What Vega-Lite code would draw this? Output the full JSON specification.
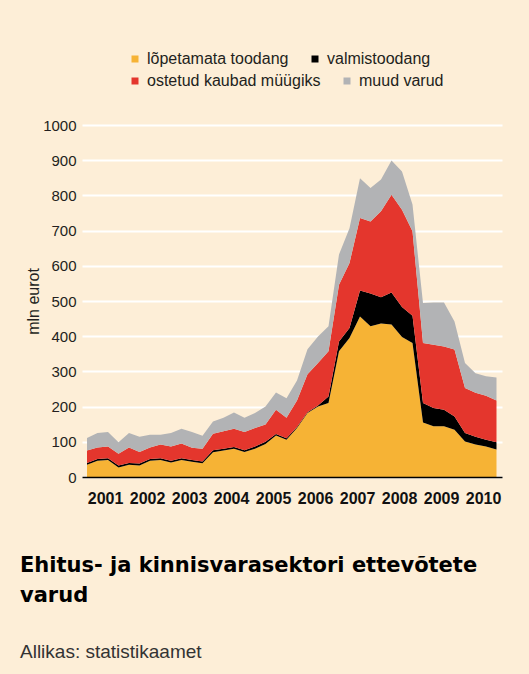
{
  "$schema": "https://vega.github.io/schema/vega-lite/v6.json",
  "width": 420,
  "height": 352,
  "autosize": {"type": "none"},
  "padding": {"left": 82, "top": 125, "right": 27, "bottom": 197},
  "background": "#FDEED7",
  "config": {
    "view": {"stroke": null},
    "font": "Liberation Sans",
    "legend": {
      "title": null,
      "orient": "none",
      "direction": "horizontal",
      "columnPadding": 18,
      "symbolType": "square",
      "symbolSize": 49,
      "symbolStrokeWidth": 0,
      "symbolOpacity": 1,
      "labelFont": "Liberation Sans",
      "labelFontSize": 16,
      "labelColor": "#231F20",
      "labelOffset": 4,
      "labelLimit": 300
    }
  },
  "title": {
    "text": ["Ehitus- ja kinnisvarasektori ettevõtete", "varud"],
    "subtitle": "Allikas: statistikaamet",
    "orient": "bottom",
    "anchor": "start",
    "frame": "group",
    "dx": -62,
    "offset": 49,
    "font": "DejaVu Sans",
    "fontWeight": "bold",
    "fontSize": 21,
    "lineHeight": 30,
    "color": "#000000",
    "subtitleFont": "Liberation Sans",
    "subtitleFontSize": 19,
    "subtitleColor": "#333333",
    "subtitlePadding": 37
  },
  "datasets": {
    "series": [
      {"k": "lõpetamata toodang", "s": 1},
      {"k": "valmistoodang", "s": 2},
      {"k": "ostetud kaubad müügiks", "s": 3},
      {"k": "muud varud", "s": 4}
    ]
  },
  "data": {
    "values": [
      {"t": 2001.00, "lõpetamata toodang": 35, "valmistoodang": 5, "ostetud kaubad müügiks": 35, "muud varud": 36},
      {"t": 2001.25, "lõpetamata toodang": 46, "valmistoodang": 5, "ostetud kaubad müügiks": 33, "muud varud": 41},
      {"t": 2001.50, "lõpetamata toodang": 48, "valmistoodang": 5, "ostetud kaubad müügiks": 34, "muud varud": 41},
      {"t": 2001.75, "lõpetamata toodang": 27, "valmistoodang": 6, "ostetud kaubad müügiks": 33, "muud varud": 33},
      {"t": 2002.00, "lõpetamata toodang": 35, "valmistoodang": 5, "ostetud kaubad müügiks": 44, "muud varud": 41},
      {"t": 2002.25, "lõpetamata toodang": 33, "valmistoodang": 5, "ostetud kaubad müügiks": 33, "muud varud": 43},
      {"t": 2002.50, "lõpetamata toodang": 46, "valmistoodang": 5, "ostetud kaubad müügiks": 33, "muud varud": 36},
      {"t": 2002.75, "lõpetamata toodang": 48, "valmistoodang": 5, "ostetud kaubad müügiks": 39, "muud varud": 28},
      {"t": 2003.00, "lõpetamata toodang": 41, "valmistoodang": 5, "ostetud kaubad müügiks": 41, "muud varud": 38},
      {"t": 2003.25, "lõpetamata toodang": 48, "valmistoodang": 5, "ostetud kaubad müügiks": 42, "muud varud": 42},
      {"t": 2003.50, "lõpetamata toodang": 43, "valmistoodang": 5, "ostetud kaubad müügiks": 35, "muud varud": 45},
      {"t": 2003.75, "lõpetamata toodang": 39, "valmistoodang": 5, "ostetud kaubad müügiks": 36, "muud varud": 37},
      {"t": 2004.00, "lõpetamata toodang": 70, "valmistoodang": 6, "ostetud kaubad müügiks": 47, "muud varud": 35},
      {"t": 2004.25, "lõpetamata toodang": 75, "valmistoodang": 5, "ostetud kaubad müügiks": 50, "muud varud": 38},
      {"t": 2004.50, "lõpetamata toodang": 80, "valmistoodang": 5, "ostetud kaubad müügiks": 52, "muud varud": 46},
      {"t": 2004.75, "lõpetamata toodang": 71, "valmistoodang": 5, "ostetud kaubad müügiks": 52, "muud varud": 40},
      {"t": 2005.00, "lõpetamata toodang": 80, "valmistoodang": 7, "ostetud kaubad müügiks": 52, "muud varud": 43},
      {"t": 2005.25, "lõpetamata toodang": 94, "valmistoodang": 6, "ostetud kaubad müügiks": 49, "muud varud": 51},
      {"t": 2005.50, "lõpetamata toodang": 118, "valmistoodang": 4, "ostetud kaubad müügiks": 69, "muud varud": 49},
      {"t": 2005.75, "lõpetamata toodang": 106, "valmistoodang": 4, "ostetud kaubad müügiks": 58, "muud varud": 56},
      {"t": 2006.00, "lõpetamata toodang": 139, "valmistoodang": 3, "ostetud kaubad müügiks": 75, "muud varud": 57},
      {"t": 2006.25, "lõpetamata toodang": 182, "valmistoodang": 2, "ostetud kaubad müügiks": 108, "muud varud": 71},
      {"t": 2006.50, "lõpetamata toodang": 200, "valmistoodang": 3, "ostetud kaubad müügiks": 121, "muud varud": 75},
      {"t": 2006.75, "lõpetamata toodang": 210, "valmistoodang": 19, "ostetud kaubad müügiks": 128, "muud varud": 71},
      {"t": 2007.00, "lõpetamata toodang": 357, "valmistoodang": 28, "ostetud kaubad müügiks": 161, "muud varud": 86},
      {"t": 2007.25, "lõpetamata toodang": 395, "valmistoodang": 28, "ostetud kaubad müügiks": 185, "muud varud": 99},
      {"t": 2007.50, "lõpetamata toodang": 456, "valmistoodang": 74, "ostetud kaubad müügiks": 206, "muud varud": 113},
      {"t": 2007.75, "lõpetamata toodang": 428, "valmistoodang": 93, "ostetud kaubad müügiks": 205, "muud varud": 95},
      {"t": 2008.00, "lõpetamata toodang": 436, "valmistoodang": 75, "ostetud kaubad müügiks": 244, "muud varud": 90},
      {"t": 2008.25, "lõpetamata toodang": 433, "valmistoodang": 91, "ostetud kaubad müügiks": 278, "muud varud": 97},
      {"t": 2008.50, "lõpetamata toodang": 398, "valmistoodang": 85, "ostetud kaubad müügiks": 276, "muud varud": 109},
      {"t": 2008.75, "lõpetamata toodang": 381, "valmistoodang": 77, "ostetud kaubad müügiks": 240, "muud varud": 76},
      {"t": 2009.00, "lõpetamata toodang": 155, "valmistoodang": 55, "ostetud kaubad müügiks": 171, "muud varud": 113},
      {"t": 2009.25, "lõpetamata toodang": 144, "valmistoodang": 52, "ostetud kaubad müügiks": 180, "muud varud": 120},
      {"t": 2009.50, "lõpetamata toodang": 144, "valmistoodang": 47, "ostetud kaubad müügiks": 180, "muud varud": 125},
      {"t": 2009.75, "lõpetamata toodang": 134, "valmistoodang": 38, "ostetud kaubad müügiks": 190, "muud varud": 80},
      {"t": 2010.00, "lõpetamata toodang": 101, "valmistoodang": 24, "ostetud kaubad müügiks": 128, "muud varud": 71},
      {"t": 2010.25, "lõpetamata toodang": 92, "valmistoodang": 22, "ostetud kaubad müügiks": 125, "muud varud": 56},
      {"t": 2010.50, "lõpetamata toodang": 87, "valmistoodang": 19, "ostetud kaubad müügiks": 125, "muud varud": 55},
      {"t": 2010.75, "lõpetamata toodang": 78, "valmistoodang": 21, "ostetud kaubad müügiks": 118, "muud varud": 66}
    ]
  },
  "transform": [
    {"fold": ["lõpetamata toodang", "valmistoodang", "ostetud kaubad müügiks", "muud varud"], "as": ["k", "v"]},
    {"lookup": "k", "from": {"data": {"name": "series"}, "key": "k", "fields": ["s"]}}
  ],
  "encoding": {
    "x": {
      "field": "t",
      "type": "quantitative",
      "scale": {"domain": [2000.881, 2010.881], "nice": false, "zero": false},
      "axis": {
        "title": null,
        "values": [2001.43, 2002.43, 2003.43, 2004.43, 2005.43, 2006.43, 2007.43, 2008.43, 2009.43, 2010.43],
        "labelExpr": "floor(datum.value)",
        "grid": false,
        "ticks": false,
        "domain": true,
        "domainColor": "#000000",
        "domainWidth": 1.5,
        "labelFont": "Liberation Sans",
        "labelFontSize": 16,
        "labelFontWeight": "bold",
        "labelColor": "#111111",
        "labelPadding": 13,
        "labelFlush": false,
        "labelOverlap": false,
        "zindex": 1
      }
    },
    "y": {
      "field": "v",
      "type": "quantitative",
      "stack": "zero",
      "scale": {"domain": [0, 1000], "nice": false},
      "axis": {
        "title": "mln eurot",
        "titleFont": "Liberation Sans",
        "titleFontSize": 16,
        "titleFontWeight": "normal",
        "titleColor": "#231F20",
        "titlePadding": 1,
        "values": [0, 100, 200, 300, 400, 500, 600, 700, 800, 900, 1000],
        "format": "d",
        "grid": true,
        "gridColor": "#FFFFFF",
        "gridWidth": 2,
        "gridOpacity": 1,
        "domain": false,
        "ticks": false,
        "labelFont": "Liberation Sans",
        "labelFontSize": 15,
        "labelColor": "#231F20",
        "labelPadding": 6
      }
    }
  },
  "layer": [
    {
      "mark": {"type": "area", "interpolate": "linear"},
      "encoding": {
        "order": {"field": "s", "type": "quantitative", "sort": "ascending"},
        "color": {
          "field": "k",
          "type": "nominal",
          "scale": {
            "domain": ["lõpetamata toodang", "valmistoodang", "ostetud kaubad müügiks", "muud varud"],
            "range": ["#F6B335", "#000000", "#E4362D", "#B2B3B5"]
          },
          "legend": null
        }
      }
    },
    {
      "transform": [{"filter": {"field": "s", "lte": 2}}],
      "mark": {"type": "square", "filled": true, "opacity": 0},
      "encoding": {
        "color": {
          "field": "k",
          "type": "nominal",
          "scale": {
            "domain": ["lõpetamata toodang", "valmistoodang"],
            "range": ["#F6B335", "#000000"]
          },
          "legend": {"legendX": 45, "legendY": -74}
        }
      }
    },
    {
      "transform": [{"filter": {"field": "s", "gte": 3}}],
      "mark": {"type": "square", "filled": true, "opacity": 0},
      "encoding": {
        "color": {
          "field": "k",
          "type": "nominal",
          "scale": {
            "domain": ["ostetud kaubad müügiks", "muud varud"],
            "range": ["#E4362D", "#B2B3B5"]
          },
          "legend": {"legendX": 45, "legendY": -52}
        }
      }
    }
  ],
  "resolve": {"scale": {"color": "independent"}}
}
